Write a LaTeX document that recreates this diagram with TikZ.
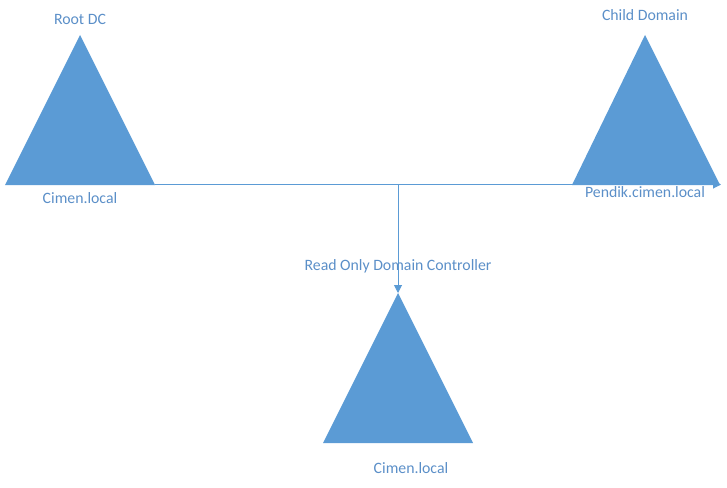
\documentclass[tikz,border=0pt]{standalone}
\usepackage{fontspec}
\setmainfont{Carlito}
\usetikzlibrary{arrows.meta}
\definecolor{tri}{HTML}{5B9BD5}
\definecolor{txt}{HTML}{5B8FC8}
\begin{document}
\begin{tikzpicture}[x=1pt,y=-1pt,
  trishape/.style={fill=tri,draw=none},
  lbl/.style={text=txt,font=\fontsize{15.8}{18}\selectfont,inner sep=0pt},
  conn/.style={draw=tri,line width=1pt,-{Triangle[length=8pt,width=8pt]}}]
\useasboundingbox (0,0) rectangle (727,487);
% triangles
\fill[trishape] (80,35) -- (155,185) -- (5,185) -- cycle;
\fill[trishape] (645,35) -- (720,185) -- (572,185) -- cycle;
\fill[trishape] (398,293) -- (473,443) -- (323,443) -- cycle;
% named points
\coordinate (a) at (155,184.5);
\coordinate (b) at (721,184.5);
\coordinate (j) at (398,184.5);
\coordinate (c) at (398,293);
% connectors
\draw[conn] (a) -- (b);
\draw[conn] (j) -- (c);
% labels
\node[lbl] (l1) at (80,19) {Root DC};
\node[lbl] (l2) at (80,198) {Cimen.local};
\node[lbl] (l3) at (645,15) {Child Domain};
\node[lbl] (l4) at (645,192) {Pendik.cimen.local};
\node[lbl] (l5) at (398,266) {Read Only Domain Controller};
\node[lbl] (l6) at (411,468) {Cimen.local};
\end{tikzpicture}
\end{document}
